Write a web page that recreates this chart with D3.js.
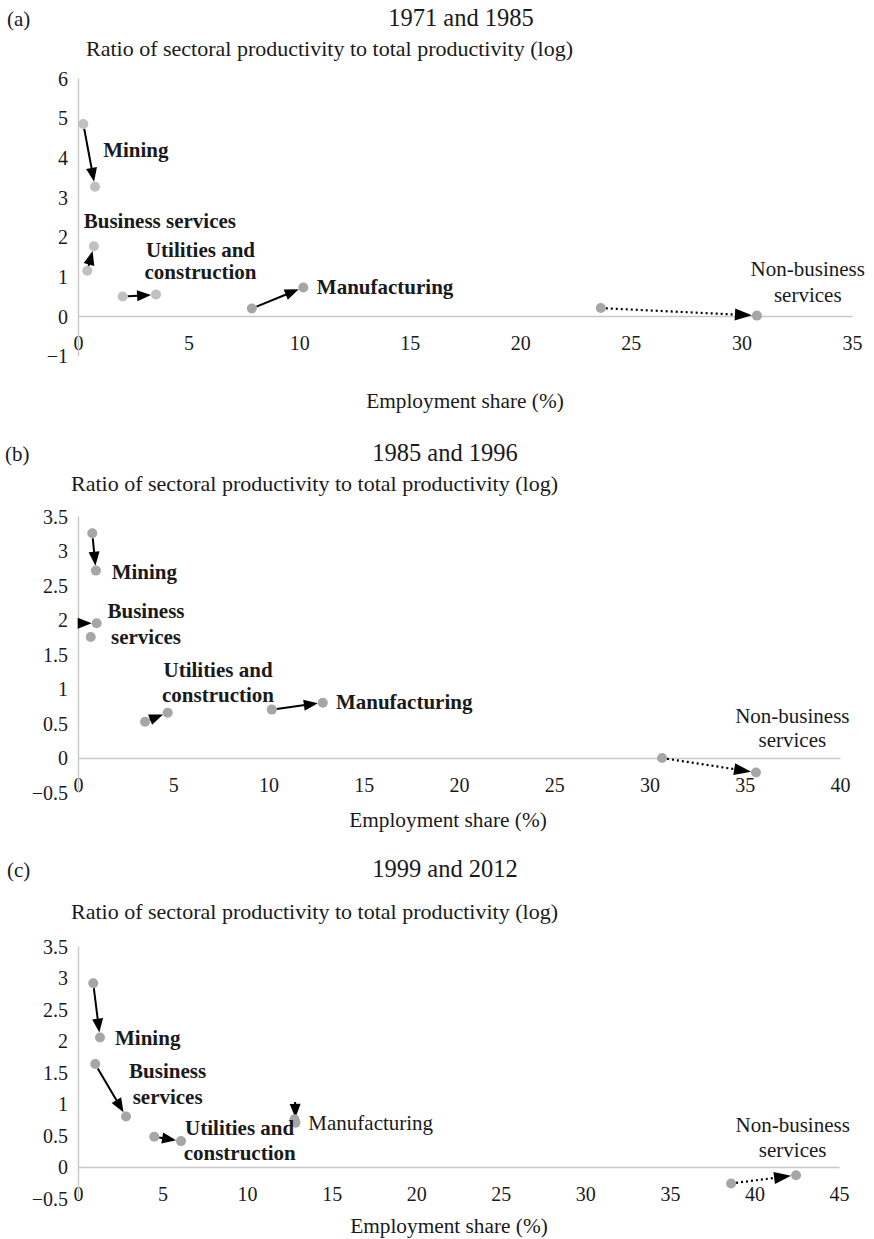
<!DOCTYPE html>
<html><head><meta charset="utf-8">
<script src="https://cdn.jsdelivr.net/npm/d3@7"></script>
<style>
body{margin:0;background:#fff}
text{font-family:"Liberation Serif","Times New Roman",serif;fill:#1a1a1a}
</style>
</head><body>
<svg id="chart" width="874" height="1239"></svg>
<script>
// ---------------- DATA ----------------
const sectors = ["Mining", "Business services", "Utilities and construction", "Manufacturing", "Non-business services"];

// (a) 1971 -> 1985
const empA0  = [0.24, 0.42, 2.02, 7.86, 23.64];
const prodA0 = [4.84, 1.14, 0.49, 0.19, 0.20];
const empA1  = [0.77, 0.72, 3.53, 10.19, 30.70];
const prodA1 = [3.26, 1.76, 0.54, 0.72, 0.01];

// (b) 1985 -> 1996
const empB0  = [0.75, 0.67, 3.52, 10.17, 30.66];
const prodB0 = [3.25, 1.75, 0.525, 0.70, 0.00];
const empB1  = [0.94, 0.98, 4.71, 12.85, 35.59];
const prodB1 = [2.71, 1.95, 0.655, 0.80, -0.21];

// (c) 1999 -> 2012
const empC0  = [0.90, 1.02, 4.51, 12.80, 38.62];
const prodC0 = [2.91, 1.63, 0.48, 0.755, -0.26];
const empC1  = [1.30, 2.84, 6.09, 12.86, 42.46];
const prodC1 = [2.05, 0.80, 0.41, 0.70, -0.13];

const titles = ["1971 and 1985", "1985 and 1996", "1999 and 2012"];
const tags = ["(a)", "(b)", "(c)"];
const yTitle = "Ratio of sectoral productivity to total productivity (log)";
const xTitle = "Employment share (%)";

const xTicksA = [0, 5, 10, 15, 20, 25, 30, 35];
const yTicksA = [-1, 0, 1, 2, 3, 4, 5, 6];
const xTicksB = [0, 5, 10, 15, 20, 25, 30, 35, 40];
const yTicksB = [-0.5, 0, 0.5, 1, 1.5, 2, 2.5, 3, 3.5];
const xTicksC = [0, 5, 10, 15, 20, 25, 30, 35, 40, 45];
const yTicksC = [-0.5, 0, 0.5, 1, 1.5, 2, 2.5, 3, 3.5];

// ---------------- LAYOUT / STYLE ----------------
const panels = [
  { x0: empA0, y0: prodA0, x1: empA1, y1: prodA1, xt: xTicksA, yt: yTicksA,
    xr: [78, 852], yr: [355.67, 78],
    tag: [7, 26], title: [461, 26], ytitle: [86, 56], xtitle: [465, 408],
    colors: ["#c0c0c0", "#c0c0c0", "#c0c0c0", "#a6a6a6", "#a6a6a6"],
    arrowFrom: [null, null, null, null, null],
    labels: [
      { lines: ["Mining"], bold: true, anchor: "start", x: 1.14, y: 4.02 },
      { lines: ["Business services"], bold: true, anchor: "start", x: 0.26, y: 2.21 },
      { lines: ["Utilities and", "construction"], bold: true, anchor: "middle", x: 5.54, y: 1.495, lh: 22.6 },
      { lines: ["Manufacturing"], bold: true, anchor: "start", x: 10.80, y: 0.555 },
      { lines: ["Non-business", "services"], bold: false, anchor: "middle", x: 33.0, y: 1.01, lh: 25.7 }
    ] },
  { x0: empB0, y0: prodB0, x1: empB1, y1: prodB1, xt: xTicksB, yt: yTicksB,
    xr: [78, 840], yr: [792.57, 516],
    tag: [5, 461], title: [445, 461], ytitle: [71, 491], xtitle: [448, 827],
    colors: ["#a6a6a6", "#a6a6a6", "#a6a6a6", "#a6a6a6", "#a6a6a6"],
    arrowFrom: [null, [0, 1.95], null, null, null],
    labels: [
      { lines: ["Mining"], bold: true, anchor: "start", x: 1.77, y: 2.59 },
      { lines: ["Business", "services"], bold: true, anchor: "middle", x: 3.57, y: 2.02, lh: 25.7 },
      { lines: ["Utilities and", "construction"], bold: true, anchor: "middle", x: 7.35, y: 1.176, lh: 25 },
      { lines: ["Manufacturing"], bold: true, anchor: "start", x: 13.54, y: 0.704 },
      { lines: ["Non-business", "services"], bold: false, anchor: "middle", x: 37.5, y: 0.502, lh: 24 }
    ] },
  { x0: empC0, y0: prodC0, x1: empC1, y1: prodC1, xt: xTicksC, yt: yTicksC,
    xr: [78, 839], yr: [1198.57, 946],
    tag: [7, 877], title: [445, 877], ytitle: [71, 919], xtitle: [449, 1233],
    colors: ["#a6a6a6", "#a6a6a6", "#a6a6a6", "#a6a6a6", "#a6a6a6"],
    arrowFrom: [null, null, null, [12.84, 1.03], null],
    labels: [
      { lines: ["Mining"], bold: true, anchor: "start", x: 2.19, y: 1.93 },
      { lines: ["Business", "services"], bold: true, anchor: "middle", x: 5.30, y: 1.405, lh: 25.7 },
      { lines: ["Utilities and", "construction"], bold: true, anchor: "middle", x: 9.56, y: 0.507, lh: 25 },
      { lines: ["Manufacturing"], bold: false, anchor: "start", x: 13.62, y: 0.586 },
      { lines: ["Non-business", "services"], bold: false, anchor: "middle", x: 42.26, y: 0.559, lh: 25 }
    ] }
];

const svg = d3.select("#chart");
const fmt = d => d < 0 ? "\u2212" + Math.abs(d) : String(d);
const R = 5;

function drawArrow(g, p1, p2, dotted, trimStart) {
  const dx = p2[0] - p1[0], dy = p2[1] - p1[1];
  const len = Math.hypot(dx, dy);
  const ux = dx / len, uy = dy / len;
  const L = dotted ? 17 : 14, W = dotted ? 6 : 5.5;
  const sx = p1[0] + ux * (trimStart ? R : 0), sy = p1[1] + uy * (trimStart ? R : 0);
  const tx = p2[0] - ux * R, ty = p2[1] - uy * R;
  const bx = tx - ux * L, by = ty - uy * L;
  if ((bx - sx) * ux + (by - sy) * uy > 0) {
    g.append("line").attr("x1", sx).attr("y1", sy).attr("x2", bx + ux * 1).attr("y2", by + uy * 1)
      .attr("stroke", "#000").attr("stroke-width", dotted ? 2.2 : 2)
      .attr("stroke-dasharray", dotted ? "2,3" : null);
  }
  const px = -uy, py = ux;
  g.append("polygon")
    .attr("points", [[tx, ty], [bx + px * W, by + py * W], [bx - px * W, by - py * W]].map(p => p.join(",")).join(" "))
    .attr("fill", "#000");
}

panels.forEach((p, i) => {
  const g = svg.append("g");
  const x = d3.scaleLinear().domain([p.xt[0], p.xt[p.xt.length - 1]]).range(p.xr);
  const y = d3.scaleLinear().domain([p.yt[0], p.yt[p.yt.length - 1]]).range(p.yr);

  // axes (lines through zero, no ticks)
  const xAxis = d3.axisBottom(x).tickValues(p.xt).tickFormat(fmt).tickSize(0).tickPadding(27);
  const gx = g.append("g").attr("transform", `translate(0,${y(0)})`).call(xAxis);
  gx.select(".domain").attr("stroke", "#c8c8c8").attr("stroke-width", 1.4);
  gx.selectAll("text").attr("font-size", 20).attr("font-family", "Liberation Serif").attr("fill", "#1a1a1a")
    .attr("dy", "0.35em").attr("y", 27);

  const yAxis = d3.axisLeft(y).tickValues(p.yt).tickFormat(fmt).tickSize(0).tickPadding(10);
  const gy = g.append("g").attr("transform", `translate(${x(0)},0)`).call(yAxis);
  gy.select(".domain").attr("stroke", "#c8c8c8").attr("stroke-width", 1.4);
  gy.selectAll("text").attr("font-size", 20).attr("font-family", "Liberation Serif").attr("fill", "#1a1a1a")
    .attr("dy", "0.35em");

  // texts
  g.append("text").attr("x", p.tag[0]).attr("y", p.tag[1]).attr("font-size", 21).text(tags[i]);
  g.append("text").attr("x", p.title[0]).attr("y", p.title[1]).attr("font-size", 24.5)
    .attr("text-anchor", "middle").text(titles[i]);
  g.append("text").attr("x", p.ytitle[0]).attr("y", p.ytitle[1]).attr("font-size", 22).text(yTitle);
  g.append("text").attr("x", p.xtitle[0]).attr("y", p.xtitle[1]).attr("font-size", 21.3)
    .attr("text-anchor", "middle").text(xTitle);

  // arrows
  const ga = g.append("g");
  sectors.forEach((s, k) => {
    const from = p.arrowFrom[k];
    const p1 = from ? [x(from[0]), y(from[1])] : [x(p.x0[k]), y(p.y0[k])];
    const p2 = [x(p.x1[k]), y(p.y1[k])];
    drawArrow(ga, p1, p2, k === 4, !from);
  });

  // points
  const pts = [];
  sectors.forEach((s, k) => {
    pts.push({ x: p.x0[k], y: p.y0[k], c: p.colors[k] });
    pts.push({ x: p.x1[k], y: p.y1[k], c: p.colors[k] });
  });
  g.append("g").selectAll("circle").data(pts).join("circle")
    .attr("cx", d => x(d.x)).attr("cy", d => y(d.y)).attr("r", R).attr("fill", d => d.c);

  // labels
  p.labels.forEach(l => {
    const t = g.append("text").attr("x", x(l.x)).attr("y", y(l.y)).attr("font-size", 21)
      .attr("font-weight", l.bold ? "bold" : "normal").attr("text-anchor", l.anchor);
    l.lines.forEach((ln, j) => {
      t.append("tspan").attr("x", x(l.x)).attr("y", y(l.y) + j * (l.lh || 25)).text(ln);
    });
  });
});
</script>
</body></html>
